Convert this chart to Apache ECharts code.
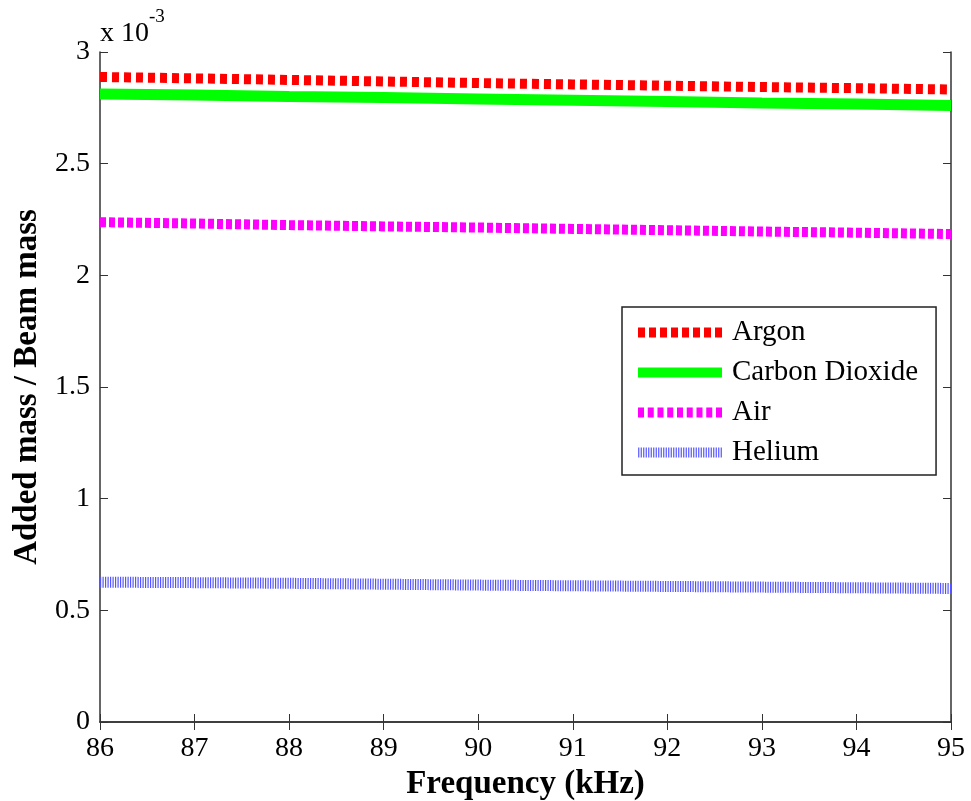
<!DOCTYPE html>
<html><head><meta charset="utf-8">
<script src="https://cdn.jsdelivr.net/npm/echarts@6/dist/echarts.min.js"></script>
<style>html,body{margin:0;padding:0;background:#fff}#c{width:971px;height:801px}</style>
</head><body><div id="c"></div>
<script>
var frequency = [86, 87, 88, 89, 90, 91, 92, 93, 94, 95];
var argon   = [2.888, 2.882, 2.875, 2.868, 2.861, 2.855, 2.849, 2.843, 2.838, 2.832];
var co2     = [2.812, 2.807, 2.801, 2.796, 2.790, 2.784, 2.778, 2.772, 2.767, 2.761];
var air     = [2.238, 2.232, 2.225, 2.219, 2.214, 2.208, 2.202, 2.196, 2.191, 2.185];
var helium  = [0.626, 0.624, 0.621, 0.617, 0.613, 0.610, 0.607, 0.604, 0.601, 0.598];
var xTicks = [86, 87, 88, 89, 90, 91, 92, 93, 94, 95];
var yTicks = [0, 0.5, 1, 1.5, 2, 2.5, 3];
var seriesNames = ['Argon', 'Carbon Dioxide', 'Air', 'Helium'];

var FONT = "'Liberation Serif','Times New Roman',serif";
function pairs(arr){ return frequency.map(function(f,i){ return [f, arr[i]]; }); }
// legend swatch path: repeated rectangles across an 84x10 box
function dashIcon(dash, period){
  var p = '';
  for (var x = 0; x + dash <= 84.01; x += period) {
    p += 'M' + x + ',0L' + (x + dash) + ',0L' + (x + dash) + ',10L' + x + ',10Z';
  }
  return 'path://' + p;
}
var icons = [dashIcon(7, 11), dashIcon(84, 84), dashIcon(6, 9.75), dashIcon(1.2, 2.5)];
var colors = ['#ff0000', '#00ff00', '#ff00ff', '#5555ff'];

var chart = echarts.init(document.getElementById('c'));
var axisLine = {show:true, lineStyle:{color:'#333', width:1.5}};
chart.setOption({
  animation:false,
  backgroundColor:'#fff',
  grid:{left:100, right:20, top:52, bottom:79, containLabel:false, outerBoundsMode:'none'},
  xAxis:[{
    type:'value', min:86, max:95, interval:1,
    name:'Frequency (kHz)', nameLocation:'middle', nameGap:30,
    nameTextStyle:{fontFamily:FONT, fontWeight:'bold', fontSize:33, color:'#000'},
    axisLine:axisLine,
    axisTick:{show:true, inside:true, length:8, lineStyle:{color:'#333'}},
    axisLabel:{fontFamily:FONT, fontSize:28, color:'#000', margin:13},
    splitLine:{show:false}
  },{
    type:'value', min:86, max:95, interval:1, position:'top',
    axisLine:axisLine,
    axisTick:{show:true, inside:true, length:8, lineStyle:{color:'#333'}},
    axisLabel:{show:false}, splitLine:{show:false}
  }],
  yAxis:[{
    type:'value', min:0, max:3, interval:0.5,
    name:'Added mass / Beam mass', nameLocation:'middle', nameGap:52, nameRotate:90,
    nameTextStyle:{fontFamily:FONT, fontWeight:'bold', fontSize:33, color:'#000'},
    axisLine:axisLine,
    axisTick:{show:true, inside:true, length:8, lineStyle:{color:'#333'}},
    axisLabel:{fontFamily:FONT, fontSize:28, color:'#000', margin:10,
      formatter:function(v){ return yTicks.indexOf(v) >= 0 ? String(v) : ''; }},
    splitLine:{show:false}
  },{
    type:'value', min:0, max:3, interval:0.5, position:'right',
    axisLine:axisLine,
    axisTick:{show:true, inside:true, length:8, lineStyle:{color:'#333'}},
    axisLabel:{show:false}, splitLine:{show:false}
  }],
  legend:{
    orient:'vertical', left:622, top:307,
    data:seriesNames.map(function(n, i){
      return {name:n, icon:icons[i], itemStyle:{color:colors[i], borderWidth:0}};
    }),
    backgroundColor:'#fff', borderColor:'#222', borderWidth:1.5,
    padding:[11,18,8,16],
    itemWidth:84, itemHeight:10, itemGap:11,
    itemStyle:{borderWidth:0},
    lineStyle:{width:0},
    textStyle:{fontFamily:FONT, fontSize:29, color:'#000', lineHeight:28, padding:[0,0,0,5]}
  },
  graphic:[{
    type:'text', left:100, top:8,
    style:{
      text:'{a|x 10}{b|-3}', rich:{
        a:{fontFamily:FONT, fontSize:28, fill:'#000', verticalAlign:'bottom', lineHeight:40},
        b:{fontFamily:FONT, fontSize:19, fill:'#000', verticalAlign:'top', lineHeight:40, padding:[0,0,18,0]}
      }
    }
  }],
  series:[
    {name:'Argon', type:'line', data:pairs(argon), showSymbol:false, symbol:'none',
     lineStyle:{color:colors[0], width:10, type:[7,5]}, itemStyle:{color:colors[0]}},
    {name:'Carbon Dioxide', type:'line', data:pairs(co2), showSymbol:false, symbol:'none',
     lineStyle:{color:colors[1], width:11, type:'solid'}, itemStyle:{color:colors[1]}},
    {name:'Air', type:'line', data:pairs(air), showSymbol:false, symbol:'none',
     lineStyle:{color:colors[2], width:10, type:[6,3]}, itemStyle:{color:colors[2]}},
    {name:'Helium', type:'line', data:pairs(helium), showSymbol:false, symbol:'none',
     lineStyle:{color:colors[3], width:11, type:[1.2,1.3]}, itemStyle:{color:colors[3]}}
  ]
});
</script></body></html>
